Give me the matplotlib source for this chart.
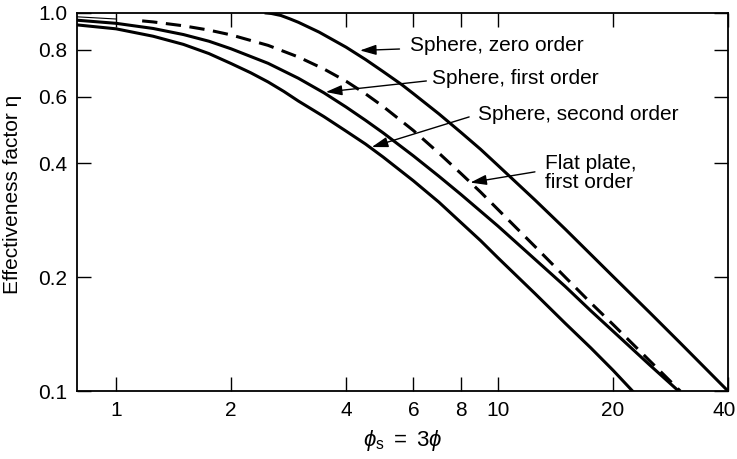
import matplotlib
matplotlib.use("Agg")
import matplotlib.pyplot as plt
import matplotlib.transforms as mtransforms
from matplotlib.ticker import FixedLocator, FixedFormatter, NullLocator

plt.rcParams['font.family'] = ['Liberation Sans', 'DejaVu Sans']
plt.rcParams['mathtext.fontset'] = 'custom'
plt.rcParams['mathtext.rm'] = 'Liberation Sans'
plt.rcParams['mathtext.it'] = 'Liberation Sans:italic'
plt.rcParams['mathtext.fallback'] = 'stixsans'

# effectiveness factor curves, eta vs phi_s
phi_zero = [2.47, 2.55, 2.7, 2.85, 3.0, 3.4, 4.0, 4.5, 5.0, 5.6, 6.0, 7.0, 8.0, 9.0,
            10.0, 12.5, 15.0, 20.0, 25.0, 30.0, 40.0]
eta_zero = [1.0, 0.997, 0.985, 0.965, 0.945, 0.89, 0.812, 0.753, 0.70, 0.646, 0.612,
            0.541, 0.483, 0.436, 0.395, 0.320, 0.268, 0.201, 0.161, 0.134, 0.1]

phi_first = [0.79, 1.0, 1.25, 1.5, 1.75, 2.0, 2.5, 3.0, 3.5, 4.0, 4.5, 5.0, 6.0, 7.0,
             8.0, 9.0, 10.0, 12.5, 15.0, 17.5, 20.0, 25.0, 29.7]
eta_first = [0.957, 0.939, 0.910, 0.877, 0.842, 0.804, 0.736, 0.672, 0.615, 0.564,
             0.520, 0.482, 0.419, 0.370, 0.331, 0.299, 0.273, 0.223, 0.189, 0.163,
             0.144, 0.117, 0.1]

phi_second = [0.79, 1.0, 1.25, 1.5, 1.75, 2.0, 2.25, 2.5, 2.75, 3.0, 3.5, 4.0, 4.5, 5.0,
              6.0, 7.0, 8.0, 9.0, 10.0, 12.5, 15.0, 17.5, 20.0, 22.5]
eta_second = [0.930, 0.908, 0.868, 0.826, 0.781, 0.735, 0.695, 0.657, 0.620, 0.585,
              0.532, 0.487, 0.450, 0.416, 0.360, 0.316, 0.279, 0.250, 0.225, 0.181,
              0.151, 0.130, 0.1135, 0.1]

phi_plate = [0.79, 1.0, 1.17, 1.25, 1.5, 1.75, 2.0, 2.5, 3.0, 3.5, 4.0, 4.5, 5.0, 6.0,
             7.0, 8.0, 9.0, 10.0, 12.5, 15.0, 17.5, 20.0, 25.0, 30.0]
eta_plate = [0.977, 0.964, 0.953, 0.947, 0.925, 0.901, 0.875, 0.821, 0.765, 0.711,
             0.660, 0.611, 0.566, 0.489, 0.426, 0.376, 0.336, 0.302, 0.241, 0.200,
             0.171, 0.150, 0.120, 0.1]

x_ticks = [1, 2, 4, 6, 8, 10, 20, 40]
x_tick_labels = ['1', '2', '4', '6', '8', '10', '20', '40']
y_ticks = [0.1, 0.2, 0.4, 0.6, 0.8, 1.0]
y_tick_labels = ['0.1', '0.2', '0.4', '0.6', '0.8', '1.0']

fig = plt.figure(figsize=(7.37, 4.59), dpi=100)
ax = fig.add_axes([0.1045, 0.148, 0.8833, 0.8237])

lw = 2.2
ax.plot(phi_zero, eta_zero, color='k', lw=lw)
ax.plot(phi_first, eta_first, color='k', lw=lw)
ax.plot(phi_second, eta_second, color='k', lw=lw)
ax.plot(phi_plate[:2], eta_plate[:2], color='k', lw=0.8)
ax.plot(phi_plate[2:], eta_plate[2:], color='k', lw=lw, dashes=(5, 2.8))

ax.set_xscale('log')
ax.set_yscale('log')
ax.set_xlim(0.79, 40)
ax.set_ylim(0.1, 1.0)

ax.xaxis.set_major_locator(FixedLocator(x_ticks))
ax.xaxis.set_major_formatter(FixedFormatter(x_tick_labels))
ax.xaxis.set_minor_locator(NullLocator())
ax.yaxis.set_major_locator(FixedLocator(y_ticks))
ax.yaxis.set_major_formatter(FixedFormatter(y_tick_labels))
ax.yaxis.set_minor_locator(NullLocator())

ax.tick_params(which='both', direction='in', top=True, right=True,
               length=10, width=1.0, labelsize=15, pad=7)
for s in ax.spines.values():
    s.set_linewidth(1.3)

# nudge the last x label so it stays inside the figure
fig.canvas.draw()
last = ax.xaxis.get_major_ticks()[-1].label1
last.set_transform(last.get_transform() +
                   mtransforms.ScaledTranslation(-3 / 72, 0, fig.dpi_scale_trans))

ax.set_xlabel(r'$\phi_{\mathrm{s}}\ =\ 3\phi$', fontsize=16)
ax.xaxis.set_label_coords(0.5, -0.097)
ax.set_ylabel('Effectiveness factor η', fontsize=15)
ax.yaxis.set_label_coords(-0.085, 0.52)

# labels with arrows pointing at each curve
arrow = dict(arrowstyle='-|>,head_length=0.7,head_width=0.22', color='k',
             lw=1.0, mutation_scale=14, shrinkA=0, shrinkB=0)
tfs = 15

ax.text(5.89, 0.818, 'Sphere, zero order', fontsize=tfs, va='center', ha='left')
ax.annotate('', xy=(4.35, 0.796), xytext=(5.52, 0.803), arrowprops=arrow)

ax.text(6.73, 0.669, 'Sphere, first order', fontsize=tfs, va='center', ha='left')
ax.annotate('', xy=(3.54, 0.618), xytext=(6.49, 0.661), arrowprops=arrow)

ax.text(8.87, 0.540, 'Sphere, second order', fontsize=tfs, va='center', ha='left')
ax.annotate('', xy=(4.67, 0.442), xytext=(8.40, 0.531), arrowprops=arrow)

ax.text(13.26, 0.378, 'Flat plate,\nfirst order', fontsize=tfs, va='center',
        ha='left', linespacing=1.0)
ax.annotate('', xy=(8.46, 0.356), xytext=(12.49, 0.380), arrowprops=arrow)

fig.savefig('out.png', dpi=100)
